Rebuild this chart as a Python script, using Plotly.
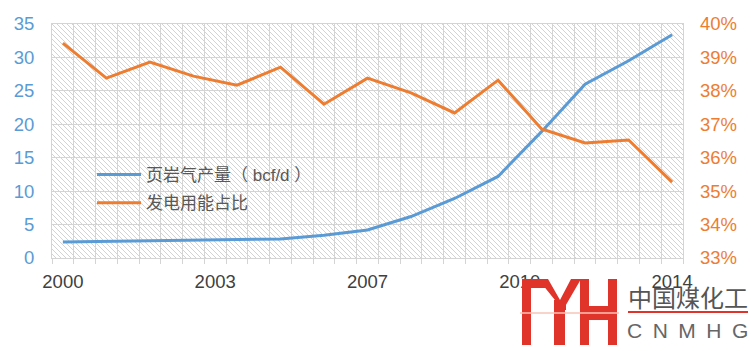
import base64
import plotly.graph_objects as go

years = list(range(2000, 2015))
shale_gas = [2.4, 2.5, 2.6, 2.6, 2.8, 2.85, 3.4, 4.2, 6.2, 8.9, 12.2, 18.9, 26.0, 29.5, 33.4]
power_share = [39.43, 38.38, 38.86, 38.44, 38.17, 38.71, 37.60, 38.38, 37.94, 37.34,
               38.32, 36.86, 36.44, 36.53, 35.27]
tick_vals = [2000, 2003.5, 2007, 2010.5, 2014]
tick_text = ["2000", "2003", "2007", "2010", "2014"]
name_gas = "页岩气产量（ bcf/d ）"
name_share = "发电用能占比"

BLUE = "#5b9bd5"
ORANGE = "#ed7d31"
GRID = "#d4d4d4"
FONT = "Liberation Sans, Noto Sans CJK SC, sans-serif"

W, H = 751, 351
L, R, T, B = 52, 683, 24, 258


def px(x):
    return (x - L) / (R - L)


def py(y):
    return (B - y) / (B - T)


svg = (
    '<svg xmlns="http://www.w3.org/2000/svg" width="631" height="234" '
    'preserveAspectRatio="none" viewBox="0 0 631 234">'
    '<defs><pattern id="h" width="5" height="5" patternUnits="userSpaceOnUse">'
    '<path d="M-1,-1 L6,6 M-1,4 L1,6 M4,-1 L6,1" stroke="#d3d3d3" stroke-width="1"/>'
    '</pattern></defs><rect width="631" height="234" fill="url(#h)"/></svg>'
)
hatch_src = "data:image/svg+xml;base64," + base64.b64encode(svg.encode()).decode()

fig = go.Figure()
fig.add_trace(go.Scatter(x=years, y=shale_gas, name=name_gas, mode="lines",
                         legendgroup="a", line=dict(color=BLUE, width=3)))
fig.add_trace(go.Scatter(x=years, y=power_share, name=name_share, mode="lines",
                         legendgroup="b", line=dict(color=ORANGE, width=3), yaxis="y2"))

shapes = []
RED = "#e0332a"
logo_rects = [
    (522, 279, 531, 345),
    (522, 279, 548, 288),
    (554, 307, 565, 345),
    (580, 279, 589, 345),
    (608, 279, 617, 345),
    (580, 306, 617, 320),
]
for x0, y0, x1, y1 in logo_rects:
    shapes.append(dict(type="rect", xref="paper", yref="paper",
                       x0=px(x0), x1=px(x1), y0=py(y1), y1=py(y0),
                       fillcolor=RED, line=dict(width=0), layer="above"))
ypath = "M {},{} L {},{} L {},{} L {},{} L {},{} L {},{} Z".format(
    px(538), py(279), px(548), py(279), px(560), py(300),
    px(571), py(279), px(581), py(279), px(563), py(310))
shapes.append(dict(type="path", xref="paper", yref="paper", path=ypath,
                   fillcolor=RED, line=dict(width=0), layer="above"))
ypath2 = "M {},{} L {},{} L {},{} L {},{} Z".format(
    px(554), py(300), px(566), py(300), px(566), py(310), px(554), py(310))
shapes.append(dict(type="path", xref="paper", yref="paper", path=ypath2,
                   fillcolor=RED, line=dict(width=0), layer="above"))
shapes.append(dict(type="line", xref="paper", yref="paper",
                   x0=px(520), x1=px(619), y0=py(313), y1=py(313),
                   line=dict(color="#f6c5b8", width=1.5), layer="above"))
shapes.append(dict(type="line", xref="paper", yref="paper",
                   x0=px(628), x1=px(748), y0=py(312), y1=py(312),
                   line=dict(color=RED, width=2), layer="above"))

annotations = [
    dict(text="中国煤化工", xref="paper", yref="paper", x=px(688), y=py(296),
         showarrow=False, font=dict(family="Noto Sans CJK SC", size=24, color="#555555"),
         xanchor="center", yanchor="middle"),
    dict(text="C\u2002N\u2002M\u2002H\u2002G", xref="paper", yref="paper",
         x=px(687), y=py(330), showarrow=False,
         font=dict(family="Liberation Sans", size=21, color="#666666"),
         xanchor="center", yanchor="middle"),
]

fig.update_layout(
    width=W, height=H,
    margin=dict(l=L, r=W - R, t=T, b=H - B, pad=0),
    paper_bgcolor="white", plot_bgcolor="white",
    font=dict(family=FONT, size=17, color="#404040"),
    showlegend=True,
    legend=dict(x=px(92), y=py(157), xanchor="left", yanchor="top",
                bgcolor="rgba(0,0,0,0)", font=dict(size=17, color="#595959"),
                traceorder="grouped", tracegroupgap=3, itemwidth=44),
    xaxis=dict(range=[1999.75, 2014.25], tickmode="array", tickvals=tick_vals,
               ticktext=tick_text, showgrid=False, zeroline=False,
               showline=True, linecolor=GRID, mirror=True, ticks="",
               ticklabelstandoff=7,
               tickfont=dict(size=18.5, color="#404040"),
               minor=dict(tick0=1999.75, dtick=0.5, showgrid=True, gridcolor=GRID,
                          gridwidth=1, ticks="outside", ticklen=5, tickcolor=GRID)),
    yaxis=dict(range=[0, 35], dtick=5, showgrid=True, gridcolor=GRID, zeroline=False,
               showline=True, linecolor=GRID, mirror=True, ticks="",
               ticklabelstandoff=13, tickfont=dict(size=18.5, color=BLUE)),
    yaxis2=dict(range=[33, 40], dtick=1, overlaying="y", side="right", showgrid=False,
                zeroline=False, ticks="", ticksuffix="%", ticklabelstandoff=16,
                tickfont=dict(size=18.5, color=ORANGE)),
    images=[dict(source=hatch_src, xref="paper", yref="paper", x=0, y=1,
                 sizex=1, sizey=1, sizing="stretch", xanchor="left", yanchor="top",
                 layer="below")],
    shapes=shapes,
    annotations=annotations,
)

fig.write_html("out.html")
